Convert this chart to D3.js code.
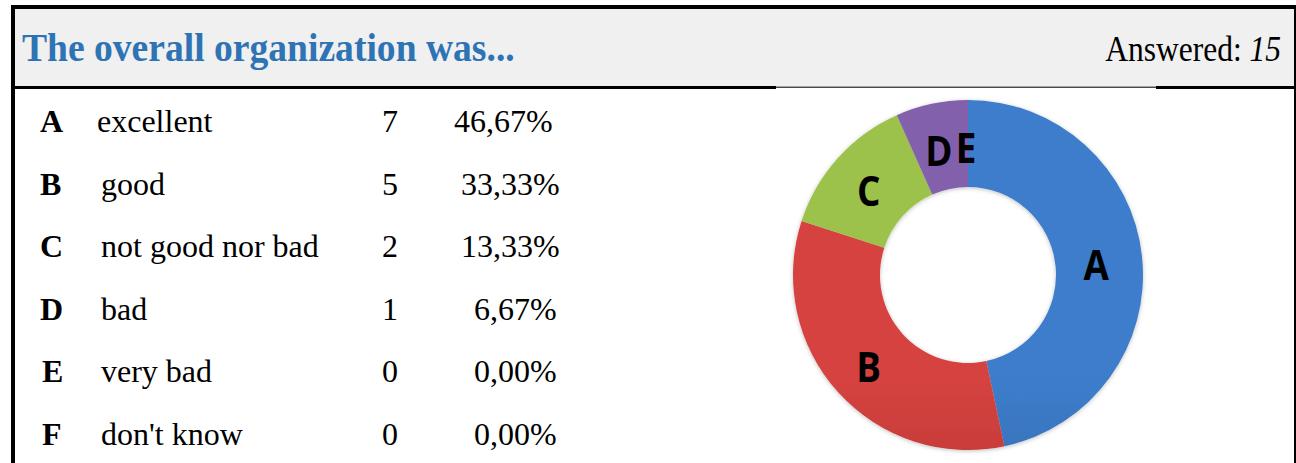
<!DOCTYPE html>
<html>
<head>
<meta charset="utf-8">
<script src="https://cdn.jsdelivr.net/npm/d3@7"></script>
<style>
  html, body { margin: 0; padding: 0; background: #ffffff; }
  svg { display: block; }
</style>
</head>
<body>
<svg id="chart" width="1296" height="463"></svg>
<script>
// ---- data ----
const title = "The overall organization was...";
const answeredLabel = "Answered: ";
const answeredCount = 15;
const letters = ["A", "B", "C", "D", "E", "F"];
const labels = ["excellent", "good", "not good nor bad", "bad", "very bad", "don't know"];
const counts = [7, 5, 2, 1, 0, 0];
const percents = ["46,67%", "33,33%", "13,33%", "6,67%", "0,00%", "0,00%"];
const pieLetters = ["A", "B", "C", "D", "E"];
const pieColorsTop = ["#3d7dcb", "#d64340", "#9cc24c", "#8260ac"];
const pieColorsBottom = ["#2a5690", "#942726", "#6c8a2f", "#563c7e"];

const svg = d3.select("#chart");
const W = 1296, H = 463;
const serif = "'Liberation Serif', 'Times New Roman', serif";

// header background
svg.append("rect").attr("x", 13).attr("y", 7).attr("width", 1282).attr("height", 80).attr("fill", "#f0f0f0");

// frame borders
svg.append("rect").attr("x", 11).attr("y", 5).attr("width", 1285).attr("height", 4).attr("fill", "#000");
svg.append("rect").attr("x", 11).attr("y", 5).attr("width", 4).attr("height", H).attr("fill", "#000");
svg.append("rect").attr("x", 1294).attr("y", 5).attr("width", 4).attr("height", H).attr("fill", "#000");
// divider under header
svg.append("rect").attr("x", 11).attr("y", 86).attr("width", 1285).attr("height", 3).attr("fill", "#000");

// title (slightly condensed, as in the reference)
svg.append("text")
  .attr("transform", "translate(22,61) scale(0.94,1)")
  .attr("font-family", serif)
  .attr("font-weight", "bold")
  .attr("font-size", 40)
  .attr("fill", "#2e74b5")
  .text(title);

// answered
const ans = svg.append("text")
  .attr("transform", "translate(1281,61) scale(0.9,1)")
  .attr("text-anchor", "end")
  .attr("font-family", serif)
  .attr("font-size", 35)
  .attr("fill", "#000");
ans.append("tspan").text(answeredLabel);
ans.append("tspan").attr("font-style", "italic").text(answeredCount);

// table rows
const rowY = d3.scalePoint().domain(letters).range([132, 445]);
const pctX = [454, 461, 461, 474, 474, 474];
const rows = svg.append("g")
  .attr("font-family", serif)
  .attr("font-size", 32)
  .attr("fill", "#000");
letters.forEach((L, i) => {
  const y = rowY(L);
  rows.append("text").attr("x", i >= 4 ? 42 : 40).attr("y", y).attr("font-weight", "bold").text(L);
  rows.append("text").attr("x", i === 0 ? 97 : 101).attr("y", y).text(labels[i]);
  rows.append("text").attr("x", 390).attr("y", y).attr("text-anchor", "middle").text(counts[i]);
  rows.append("text").attr("x", pctX[i]).attr("y", y).text(percents[i]);
});

// pie image area
const pieArea = svg.append("g");
pieArea.append("rect").attr("x", 776).attr("y", 86).attr("width", 380).attr("height", H - 86).attr("fill", "#fff");
pieArea.append("rect").attr("x", 776).attr("y", 86.5).attr("width", 380).attr("height", 1.5).attr("fill", "#4a4a4a");

const cx = 968, cy = 275, rOuter = 175, rInner = 88, rLabel = 131;
const defs = svg.append("defs");
pieColorsTop.forEach((c, i) => {
  const g = defs.append("linearGradient")
    .attr("id", "grad" + i)
    .attr("gradientUnits", "userSpaceOnUse")
    .attr("x1", 0).attr("y1", cy - rOuter).attr("x2", 0).attr("y2", cy + rOuter);
  g.append("stop").attr("offset", 0).attr("stop-color", c);
  g.append("stop").attr("offset", 1).attr("stop-color", pieColorsBottom[i]);
});
const filt = defs.append("filter").attr("id", "soft").attr("x", "-10%").attr("y", "-10%").attr("width", "120%").attr("height", "120%");
filt.append("feDropShadow").attr("dx", 0).attr("dy", 1).attr("stdDeviation", 2).attr("flood-color", "#000").attr("flood-opacity", 0.25);

const pieData = pieLetters.map((L) => ({ letter: L, value: counts[letters.indexOf(L)] }));
const pie = d3.pie().sort(null).value(d => d.value);
const arcs = pie(pieData);
const arc = d3.arc().innerRadius(rInner).outerRadius(rOuter);
const labelArc = d3.arc().innerRadius(rLabel).outerRadius(rLabel);

const pg = svg.append("g").attr("transform", `translate(${cx},${cy})`);
pg.append("g").attr("filter", "url(#soft)")
  .selectAll("path.slice")
  .data(arcs.filter(d => d.value > 0))
  .join("path")
  .attr("class", "slice")
  .attr("d", arc)
  .attr("fill", (d) => `url(#grad${d.index})`);

pg.selectAll("text.lbl")
  .data(arcs)
  .join("text")
  .attr("class", "lbl")
  .attr("transform", d => {
    const [x, y] = labelArc.centroid(d);
    return `translate(${x - 2},${y + 4}) scale(0.92,1.05)`;
  })
  .attr("text-anchor", "middle")
  .attr("dy", "0.36em")
  .attr("font-family", "'Open Sans', Lato, sans-serif")
  .attr("font-weight", "bold")
  .attr("font-size", 40)
  .attr("fill", "#000")
  .text(d => d.data.letter);
</script>
</body>
</html>
